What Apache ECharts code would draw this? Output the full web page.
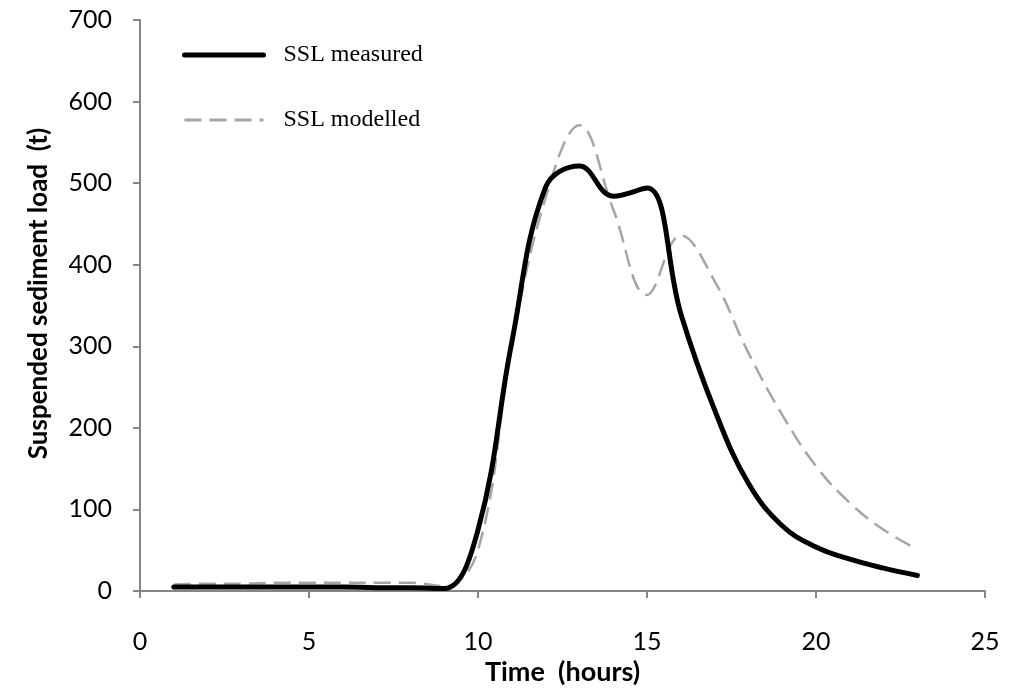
<!DOCTYPE html>
<html>
<head>
<meta charset="utf-8">
<script src="https://cdn.jsdelivr.net/npm/echarts@6/dist/echarts.min.js"></script>
<style>
html,body{margin:0;padding:0;background:#fff;}
#chart{width:1016px;height:688px;}
</style>
</head>
<body>
<div id="chart"></div>
<script>
const hours = [1,2,3,4,5,6,7,8,9,10,11,12,13,14,15,16,17,18,19,20,21,22,23];
const sslMeasured = [5,5,5,5,5,5,4,4,3,75,305,495,521,484,494,340,222,132,80,54,39,28,19];
const sslModelled = [8,9,9,10,10,10,10,10,6,50,300,482,571,468,363,436,380,292,216,153,108,75,51];
const seriesNames = ['SSL measured','SSL modelled'];

const chart = echarts.init(document.getElementById('chart'));
const toPairs = v => hours.map((h,i)=>[h,v[i]]);
const axisColor = '#868686';
const labelFont = 'Lato, "Open Sans", sans-serif';

chart.setOption({
  animation:false,
  backgroundColor:'#fff',
  grid:{left:140,right:31,top:20,bottom:97,containLabel:false,outerBoundsMode:'none'},
  legend:{
    orient:'vertical', left:177, top:38, itemGap:41,
    itemWidth:79, itemHeight:26,
    itemStyle:{opacity:0},
    textStyle:{fontFamily:'"Liberation Serif", serif', fontSize:24, color:'#000', padding:[0,0,0,15]},
    data:[
      {name:seriesNames[0], lineStyle:{width:5, color:'#000'}},
      {name:seriesNames[1], lineStyle:{width:3, color:'#a6a6a6', type:[17,8]}}
    ]
  },
  xAxis:{
    type:'value', min:0, max:25, interval:5,
    name:'Time  (hours)', nameLocation:'middle', nameGap:62,
    nameTextStyle:{fontFamily:labelFont, fontWeight:'bold', fontSize:27, color:'#000'},
    axisLine:{lineStyle:{color:axisColor, width:2}},
    axisTick:{inside:false, length:7, lineStyle:{color:axisColor, width:2}},
    axisLabel:{fontFamily:labelFont, fontSize:25, color:'#000', margin:38},
    splitLine:{show:false}
  },
  yAxis:{
    type:'value', min:0, max:700, interval:100,
    name:'Suspended sediment load  (t)', nameLocation:'middle', nameGap:88,
    nameTextStyle:{fontFamily:labelFont, fontWeight:'bold', fontSize:26, color:'#000', padding:[0,0,0,24]},
    axisLine:{show:true, lineStyle:{color:axisColor, width:2}},
    axisTick:{show:true, inside:false, length:7, lineStyle:{color:axisColor, width:2}},
    axisLabel:{fontFamily:labelFont, fontSize:25, color:'#000', margin:28},
    splitLine:{show:false}
  },
  series:[
    {
      name:seriesNames[1], type:'line', data:toPairs(sslModelled),
      smooth:0.4, symbol:'none', z:2,
      lineStyle:{color:'#a6a6a6', width:2.5, type:[17,8]},
      itemStyle:{color:'#a6a6a6'}
    },
    {
      name:seriesNames[0], type:'line', data:toPairs(sslMeasured),
      smooth:0.4, symbol:'none', z:3,
      lineStyle:{color:'#000', width:5, cap:'round'},
      itemStyle:{color:'#000'}
    }
  ]
});
</script>
</body>
</html>
